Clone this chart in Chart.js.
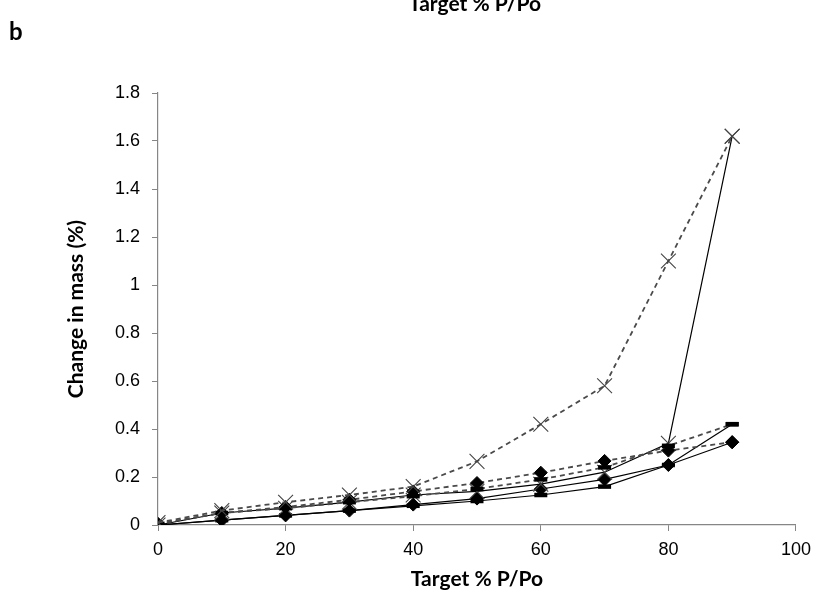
<!DOCTYPE html>
<html>
<head>
<meta charset="utf-8">
<script src="https://cdn.jsdelivr.net/npm/chart.js@4/dist/chart.umd.min.js"></script>
<style>
  html, body { margin: 0; padding: 0; background: #fff; }
  #wrap { width: 819px; height: 607px; }
</style>
</head>
<body>
<div id="wrap"><canvas id="c" width="819" height="607"></canvas></div>
<script>
// Target relative pressure steps (% P/Po)
const targetPPo = [0, 10, 20, 30, 40, 50, 60, 70, 80, 90];

// Change in mass (%) — sorption (solid) and desorption (dashed) for three samples
const diamondSorption   = [0, 0.02, 0.04, 0.06, 0.085, 0.11, 0.15, 0.19, 0.25, 0.345];
const diamondDesorption = [0.005, 0.05, 0.075, 0.105, 0.14, 0.175, 0.218, 0.267, 0.31, 0.345];
const dashSorption      = [0, 0.02, 0.04, 0.06, 0.08, 0.10, 0.125, 0.16, 0.25, 0.42];
const dashDesorption    = [0.005, 0.05, 0.07, 0.095, 0.12, 0.15, 0.19, 0.24, 0.33, 0.42];
const crossSorption     = [0, 0.05, 0.07, 0.095, 0.125, 0.14, 0.17, 0.22, 0.34, 1.62];
const crossDesorption   = [0.01, 0.06, 0.095, 0.125, 0.16, 0.265, 0.42, 0.58, 1.10, 1.62];

const xTicks = [0, 20, 40, 60, 80, 100];
const yTicks = [0, 0.2, 0.4, 0.6, 0.8, 1, 1.2, 1.4, 1.6, 1.8];

const pts = arr => targetPPo.map((x, i) => ({ x: x, y: arr[i] }));

const solid = { borderColor: '#000', borderWidth: 1.2, showLine: true, tension: 0 };
const dashed = { borderColor: '#4a4a4a', borderWidth: 1.8, borderDash: [5, 4], showLine: true, tension: 0 };

const diamond = { pointStyle: 'rectRot', pointRadius: 6.5, pointBackgroundColor: '#000', pointBorderColor: '#000', pointBorderWidth: 1 };
const bar = { pointStyle: 'line', pointRadius: 6.5, pointBorderColor: '#000', pointBorderWidth: 4.5, pointBackgroundColor: '#000' };
const cross = { pointStyle: 'crossRot', pointRadius: 10.5, pointBorderColor: '#444', pointBorderWidth: 1.1, pointBackgroundColor: '#444' };

const datasets = [
  Object.assign({ label: 'crossDes', data: pts(crossDesorption) }, dashed, cross),
  Object.assign({ label: 'dashDes', data: pts(dashDesorption) }, dashed, bar),
  Object.assign({ label: 'diamondDes', data: pts(diamondDesorption) }, dashed, diamond),
  Object.assign({ label: 'crossSorp', data: pts(crossSorption) }, solid, cross),
  Object.assign({ label: 'dashSorp', data: pts(dashSorption) }, solid, bar),
  Object.assign({ label: 'diamondSorp', data: pts(diamondSorption) }, solid, diamond)
];

const AXIS_GREY = '#868686';
const tickFont = { family: '"Liberation Sans", Arial, sans-serif', size: 18 };
const titleFont = { family: 'Lato, "Open Sans", sans-serif', size: 21, weight: 'bold' };
const fmt = v => String(Math.round(v * 10) / 10);

// Panel letter and the header caption above the plot
const decorations = {
  id: 'decorations',
  afterDraw(chart) {
    const ctx = chart.ctx;
    ctx.save();
    ctx.fillStyle = '#000';
    ctx.textBaseline = 'alphabetic';
    ctx.font = 'bold 24px Lato, "Open Sans", sans-serif';
    ctx.textAlign = 'left';
    ctx.fillText('b', 9, 40);
    ctx.font = 'bold 21px Lato, "Open Sans", sans-serif';
    ctx.textAlign = 'center';
    ctx.fillText('Target % P/Po', 475, 11);
    ctx.restore();
  }
};

new Chart(document.getElementById('c'), {
  type: 'scatter',
  data: { datasets: datasets },
  plugins: [decorations],
  options: {
    responsive: false,
    animation: false,
    layout: { padding: { left: 58, top: 93, right: 22, bottom: 0 } },
    plugins: { legend: { display: false }, tooltip: { enabled: false } },
    scales: {
      x: {
        type: 'linear', min: 0, max: 100,
        afterBuildTicks: s => { s.ticks = xTicks.map(v => ({ value: v })); },
        afterFit: s => { s.height = 82; },
        ticks: { font: tickFont, color: '#000', padding: 8, callback: fmt },
        grid: { drawOnChartArea: false, tickLength: 6, color: AXIS_GREY },
        border: { color: AXIS_GREY, width: 1.2 },
        title: { display: true, text: 'Target % P/Po', font: titleFont, color: '#000', padding: { top: 0, bottom: 15 } }
      },
      y: {
        type: 'linear', min: 0, max: 1.8,
        afterBuildTicks: s => { s.ticks = yTicks.map(v => ({ value: v })); },
        afterFit: s => { s.width = 100; },
        ticks: { font: tickFont, color: '#000', padding: 12, callback: fmt },
        grid: { drawOnChartArea: false, tickLength: 6, color: AXIS_GREY },
        border: { color: AXIS_GREY, width: 1.2 },
        title: { display: true, text: 'Change in mass (%)', font: titleFont, color: '#000', padding: { top: 6, bottom: 0 } }
      }
    }
  }
});
</script>
</body>
</html>
